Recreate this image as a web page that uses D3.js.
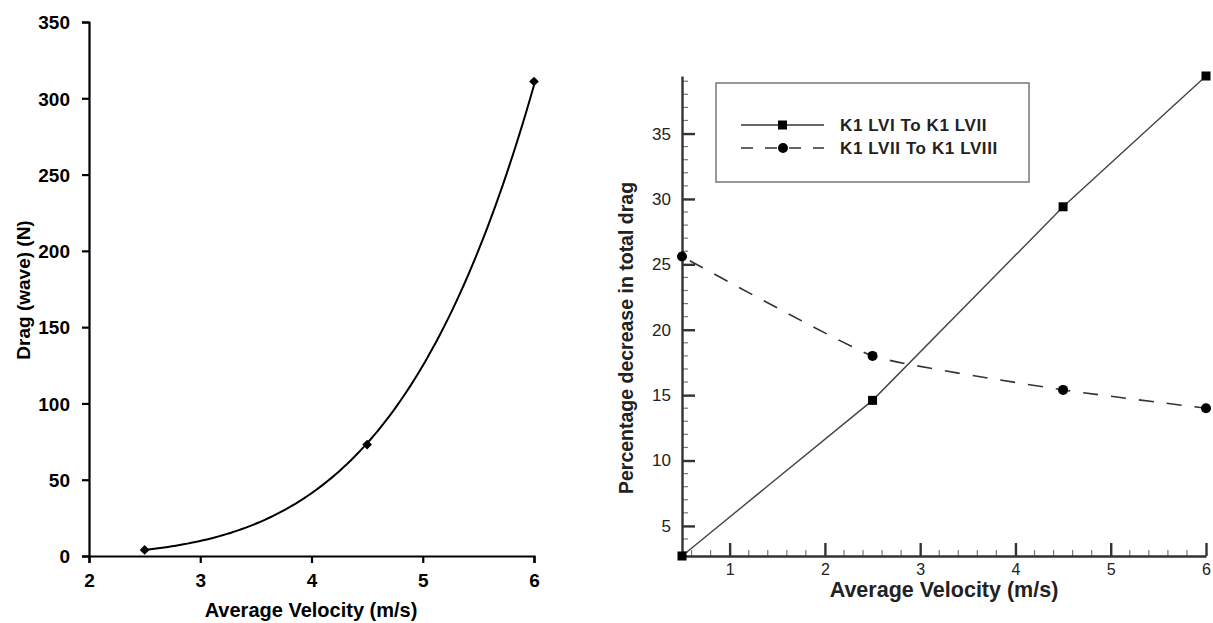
<!DOCTYPE html>
<html>
<head>
<meta charset="utf-8">
<script src="https://cdn.jsdelivr.net/npm/d3@7"></script>
<style>
  body { margin: 0; background: #fff; }
  svg { display: block; font-family: "Liberation Sans", Arial, sans-serif; }
</style>
</head>
<body>
<svg id="chart" width="1213" height="623"></svg>
<script>
// left panel: wave drag vs velocity
const dragVelocity = [2.5, 4.5, 6];
const dragWave = [4, 73, 311];
const dragXTicks = [2, 3, 4, 5, 6];
const dragYTicks = [0, 50, 100, 150, 200, 250, 300, 350];

// right panel: percentage decrease in total drag
const pctVelocity = [0.5, 2.5, 4.5, 6];
const pctLVItoLVII = [2.7, 14.6, 29.4, 39.4];
const pctLVIItoLVIII = [25.6, 18.0, 15.4, 14.0];
const pctXTicks = [1, 2, 3, 4, 5, 6];
const pctYTicks = [5, 10, 15, 20, 25, 30, 35];
const seriesNames = ['K1 LVI To K1 LVII', 'K1 LVII To K1 LVIII'];

const svg = d3.select('#chart');

// ---------- left ----------
const lx = d3.scaleLinear().domain([2, 6]).range([89, 534]);
const ly = d3.scaleLinear().domain([0, 350]).range([556, 22]);

const left = svg.append('g');

left.append('g')
    .attr('transform', 'translate(0,556)')
    .call(d3.axisBottom(lx).tickValues(dragXTicks).tickSize(7).tickPadding(11).tickFormat(d3.format('d')))
    .call(g => g.selectAll('text').style('font-size', '19px').style('font-weight', 'bold').attr('fill', '#000'));

left.append('g')
    .attr('transform', 'translate(89,0)')
    .call(d3.axisLeft(ly).tickValues(dragYTicks).tickSize(7).tickPadding(12).tickFormat(d3.format('d')))
    .call(g => g.selectAll('text').style('font-size', '19px').style('font-weight', 'bold').attr('fill', '#000').attr('dy', '0.36em'));

left.selectAll('.domain, .tick line').attr('stroke', '#000').attr('stroke-width', 2.2);

left.append('text')
    .attr('x', 311).attr('y', 617)
    .attr('text-anchor', 'middle')
    .style('font-size', '20px').style('font-weight', 'bold')
    .text('Average Velocity (m/s)');

left.append('text')
    .attr('transform', 'translate(30,290) rotate(-90)')
    .attr('text-anchor', 'middle')
    .style('font-size', '19px').style('font-weight', 'bold')
    .text('Drag (wave) (N)');

// power trendline (least squares in log-log space), as the spreadsheet draws it
const lnX = dragVelocity.map(Math.log), lnY = dragWave.map(Math.log);
const mX = d3.mean(lnX), mY = d3.mean(lnY);
const b = d3.sum(lnX, (v, i) => (v - mX) * (lnY[i] - mY)) / d3.sum(lnX, v => (v - mX) ** 2);
const a = Math.exp(mY - b * mX);
const trend = d3.range(0, 101).map(i => {
    const v = dragVelocity[0] + (dragVelocity[2] - dragVelocity[0]) * i / 100;
    return [v, a * Math.pow(v, b)];
});

left.append('path')
    .attr('d', d3.line().x(d => lx(d[0])).y(d => ly(d[1]))(trend))
    .attr('fill', 'none').attr('stroke', '#000').attr('stroke-width', 2);

const dragPts = dragVelocity.map((v, i) => [v, dragWave[i]]);
left.selectAll('.diamond')
    .data(dragPts)
    .enter()
    .append('path')
    .attr('d', d3.symbol(d3.symbolDiamond2, 60)())
    .attr('transform', d => `translate(${lx(d[0])},${ly(d[1])})`)
    .attr('fill', '#000');

// ---------- right ----------
const rx = d3.scaleLinear().domain([0.5, 6]).range([682, 1206]);
const ry = d3.scaleLinear().domain([2.7, 39.4]).range([556, 76]);
const right = svg.append('g');
const axisCol = '#333';

// minor ticks
right.selectAll('.xminor')
    .data(d3.range(6, 61, 2).map(d => d / 10).filter(d => !pctXTicks.includes(d)))
    .enter().append('line')
    .attr('x1', d => rx(d)).attr('x2', d => rx(d))
    .attr('y1', 556).attr('y2', 550)
    .attr('stroke', '#777').attr('stroke-width', 1.2);

right.selectAll('.yminor')
    .data(d3.range(3, 40).filter(d => !pctYTicks.includes(d)))
    .enter().append('line')
    .attr('x1', 682).attr('x2', 688)
    .attr('y1', d => ry(d)).attr('y2', d => ry(d))
    .attr('stroke', '#777').attr('stroke-width', 1.2);

right.append('g')
    .attr('transform', 'translate(0,556)')
    .call(d3.axisBottom(rx).tickValues(pctXTicks).tickSizeInner(-13).tickSizeOuter(0).tickPadding(8).tickFormat(d3.format('d')))
    .call(g => g.selectAll('text').style('font-size', '16px').attr('fill', '#222'));

right.append('g')
    .attr('transform', 'translate(682,0)')
    .call(d3.axisLeft(ry).tickValues(pctYTicks).tickSizeInner(-13).tickSizeOuter(0).tickPadding(11).tickFormat(d3.format('d')))
    .call(g => g.selectAll('text').style('font-size', '17px').attr('fill', '#222'));

right.selectAll('.domain, .tick line').attr('stroke', axisCol).attr('stroke-width', 2.4);

right.append('text')
    .attr('x', 944).attr('y', 597)
    .attr('text-anchor', 'middle')
    .style('font-size', '21.5px').style('font-weight', 'bold').attr('fill', '#222')
    .text('Average Velocity (m/s)');

right.append('text')
    .attr('transform', 'translate(633,338) rotate(-90)')
    .attr('text-anchor', 'middle')
    .style('font-size', '19.5px').style('font-weight', 'bold').attr('fill', '#222')
    .text('Percentage decrease in total drag');

const line = d3.line().x(d => rx(d[0])).y(d => ry(d[1]));
const s1 = pctVelocity.map((v, i) => [v, pctLVItoLVII[i]]);
const s2 = pctVelocity.map((v, i) => [v, pctLVIItoLVIII[i]]);

right.append('path')
    .attr('d', line(s1))
    .attr('fill', 'none').attr('stroke', '#444').attr('stroke-width', 1.4);

right.append('path')
    .attr('d', line.curve(d3.curveCardinal.tension(0.6))(s2))
    .attr('fill', 'none').attr('stroke', '#333').attr('stroke-width', 1.6)
    .attr('stroke-dasharray', '15,13').attr('stroke-dashoffset', -9);

right.selectAll('.sq')
    .data(s1).enter().append('rect')
    .attr('x', d => rx(d[0]) - 4.5).attr('y', d => ry(d[1]) - 4.5)
    .attr('width', 9).attr('height', 9).attr('fill', '#000');

right.selectAll('.dot')
    .data(s2).enter().append('circle')
    .attr('cx', d => rx(d[0])).attr('cy', d => ry(d[1]))
    .attr('r', 5).attr('fill', '#000');

// legend
const legend = right.append('g');
legend.append('rect')
    .attr('x', 716).attr('y', 83).attr('width', 313).attr('height', 99)
    .attr('fill', '#fff').attr('stroke', '#777').attr('stroke-width', 1.5);

seriesNames.forEach((name, i) => {
    const y = 125 + i * 23;
    legend.append('line')
        .attr('x1', 741).attr('x2', 824).attr('y1', y).attr('y2', y)
        .attr('stroke', '#333').attr('stroke-width', 1.5)
        .attr('stroke-dasharray', i === 1 ? '12,12' : null);
    if (i === 0) {
        legend.append('rect').attr('x', 778).attr('y', y - 4.5).attr('width', 9).attr('height', 9).attr('fill', '#000');
    } else {
        legend.append('circle').attr('cx', 783).attr('cy', y).attr('r', 5).attr('fill', '#000');
    }
    legend.append('text')
        .attr('x', 840).attr('y', y).attr('dy', '0.36em')
        .style('font-size', '17px').style('font-weight', 'bold').style('letter-spacing', '0.6px').attr('fill', '#222')
        .text(name);
});
</script>
</body>
</html>
